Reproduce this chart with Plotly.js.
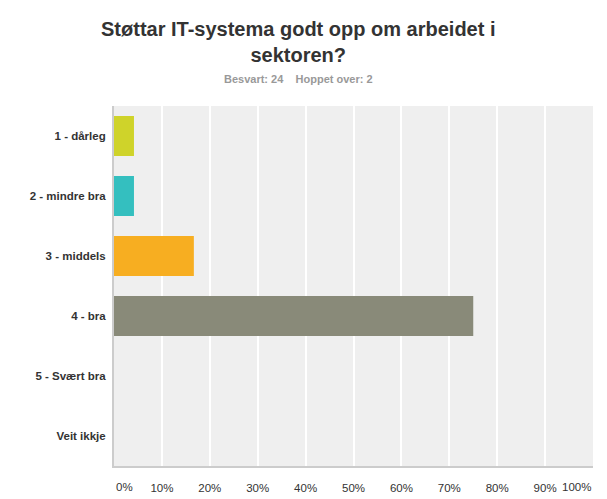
<!DOCTYPE html>
<html>
<head>
<meta charset="utf-8">
<script src="https://cdn.plot.ly/plotly-3.0.1.min.js"></script>
<style>
  html, body { margin: 0; padding: 0; background: #fff; }
  #chart { width: 607px; height: 499px; }
</style>
</head>
<body>
<div id="chart"></div>
<script>
// svaralternativ og prosentdel
const categories = ['1 - dårleg', '2 - mindre bra', '3 - middels', '4 - bra', '5 - Svært bra', 'Veit ikkje'];
const percents = [4.17, 4.17, 16.67, 75, 0, 0];
const barColors = ['#cfd32a', '#34bfbf', '#f7ae21', '#898a79', '#6b9fd1', '#9b6bb0'];
const tickVals = [0, 10, 20, 30, 40, 50, 60, 70, 80, 90, 100];
const tickText = ['0%', '10%', '20%', '30%', '40%', '50%', '60%', '70%', '80%', '90%', '100%'];

const el = document.getElementById('chart');

// endeetikettane (0% og 100%) ligg innanfor plottet, som i originalen
const edgeLabels = [0, tickVals.length - 1].map(function (i) {
    return {
        text: tickText[i],
        xref: 'x', yref: 'paper',
        x: tickVals[i], y: 0,
        xanchor: i === 0 ? 'left' : 'right',
        yanchor: 'middle',
        yshift: -21,
        showarrow: false,
        font: { size: 11.5, color: '#333333' }
    };
});

var layout = {
    width: 607,
    height: 499,
    margin: { l: 114, r: 14, t: 106, b: 33 },
    paper_bgcolor: '#ffffff',
    plot_bgcolor: '#efefef',
    font: { family: 'Liberation Sans, Arial, sans-serif', color: '#333333' },
    showlegend: false,
    bargap: 0.333,
    annotations: [{
        text: '<b>Støttar IT-systema godt opp om arbeidet i<br>sektoren?</b>',
        xref: 'paper', yref: 'paper',
        x: 0.385, y: 1.179,
        xanchor: 'center', yanchor: 'middle',
        showarrow: false,
        font: { size: 20, color: '#333333' }
    }, {
        text: '<b>Besvart: 24&nbsp;&nbsp;&nbsp;&nbsp;Hoppet over: 2</b>',
        xref: 'paper', yref: 'paper',
        x: 0.385, y: 1.075,
        xanchor: 'center', yanchor: 'middle',
        showarrow: false,
        font: { size: 11, color: '#999999' }
    }].concat(edgeLabels),
    xaxis: {
        range: [0, 100],
        tickvals: tickVals.slice(1, -1),
        ticktext: tickText.slice(1, -1),
        ticks: '',
        ticklabelstandoff: 10,
        showgrid: true,
        gridcolor: '#ffffff',
        gridwidth: 2,
        zeroline: false,
        showline: true,
        linecolor: '#cccccc',
        linewidth: 2,
        tickfont: { size: 11.5, color: '#333333' },
        fixedrange: true
    },
    yaxis: {
        type: 'category',
        categoryorder: 'array',
        categoryarray: categories,
        autorange: 'reversed',
        ticks: '',
        ticklabelstandoff: 4,
        showgrid: false,
        zeroline: false,
        showline: true,
        linecolor: '#cccccc',
        linewidth: 2,
        tickfont: { size: 11.5, color: '#333333', weight: 'bold' },
        fixedrange: true
    }
};

Plotly.newPlot(el, [{
    type: 'bar',
    orientation: 'h',
    y: categories,
    x: percents,
    marker: { color: barColors },
    hoverinfo: 'none'
}], layout, { displayModeBar: false, staticPlot: true });
</script>
</body>
</html>
